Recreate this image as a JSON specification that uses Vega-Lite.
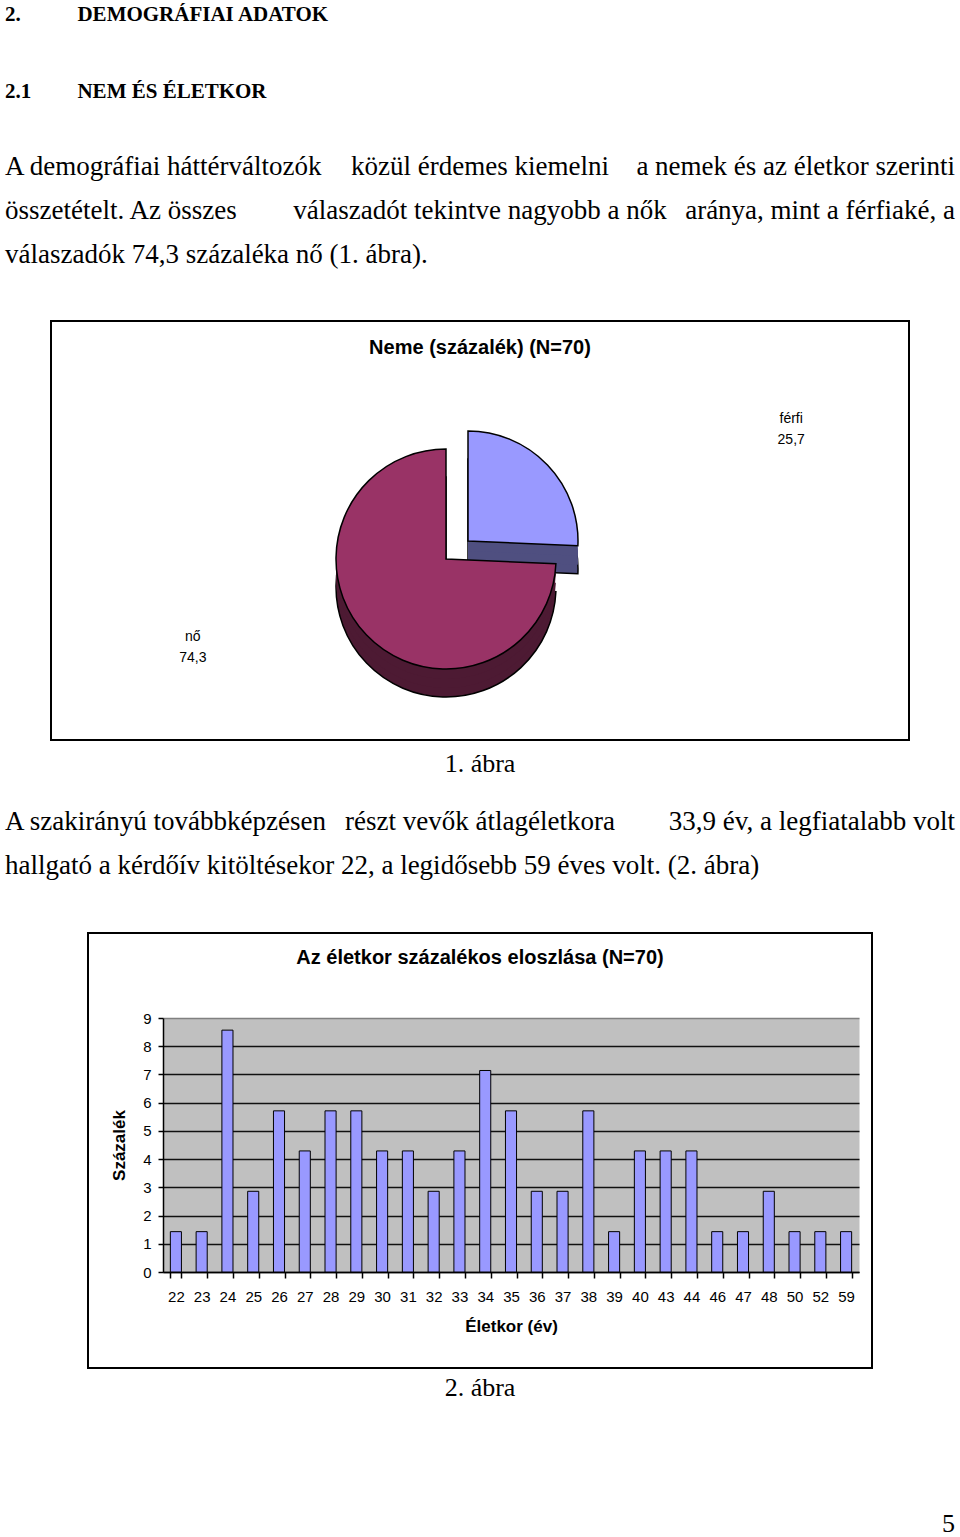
{
  "$schema": "https://vega.github.io/schema/vega-lite/v6.json",
  "background": "white",
  "padding": {"left": 5, "right": 5, "top": 0, "bottom": 0},
  "config": {
    "view": {"stroke": null},
    "locale": {"number": {"decimal": ",", "thousands": " ", "grouping": [3], "currency": ["", " Ft"]}}
  },
  "datasets": {
    "headings": [
      {"line": 1, "part": "left", "text": "2.\u2003\u2003\u2002\u2009DEMOGRÁFIAI ADATOK"},
      {"line": 2, "part": "left", "text": "2.1\u2003\u2003\u2009NEM ÉS ÉLETKOR"}
    ],
    "para1": [
      {"line": 1, "part": "left", "text": "A demográfiai háttérváltozók"},
      {"line": 1, "part": "center", "text": "közül érdemes kiemelni"},
      {"line": 1, "part": "right", "text": "a nemek és az életkor szerinti"},
      {"line": 2, "part": "left", "text": "összetételt. Az összes"},
      {"line": 2, "part": "center", "text": "válaszadót tekintve nagyobb a nők"},
      {"line": 2, "part": "right", "text": "aránya, mint a férfiaké, a"},
      {"line": 3, "part": "left", "text": "válaszadók 74,3 százaléka nő (1. ábra)."}
    ],
    "cap1": [{"line": 1, "part": "center", "text": "1. ábra"}],
    "para2": [
      {"line": 1, "part": "left", "text": "A szakirányú továbbképzésen"},
      {"line": 1, "part": "center", "text": "részt vevők átlagéletkora"},
      {"line": 1, "part": "right", "text": "33,9 év, a legfiatalabb volt"},
      {"line": 2, "part": "left", "text": "hallgató a kérdőív kitöltésekor 22, a legidősebb 59 éves volt. (2. ábra)"}
    ],
    "tail": [
      {"line": 1, "part": "center", "text": "2. ábra"},
      {"line": 2, "part": "right", "text": "5"}
    ],
    "nem": [
      {"nem": "férfi", "pct": 25.7},
      {"nem": "nő", "pct": 74.3}
    ],
    "ages": [
      {"age": 22, "pct": 1.43}, {"age": 23, "pct": 1.43}, {"age": 24, "pct": 8.57},
      {"age": 25, "pct": 2.86}, {"age": 26, "pct": 5.71}, {"age": 27, "pct": 4.29},
      {"age": 28, "pct": 5.71}, {"age": 29, "pct": 5.71}, {"age": 30, "pct": 4.29},
      {"age": 31, "pct": 4.29}, {"age": 32, "pct": 2.86}, {"age": 33, "pct": 4.29},
      {"age": 34, "pct": 7.14}, {"age": 35, "pct": 5.71}, {"age": 36, "pct": 2.86},
      {"age": 37, "pct": 2.86}, {"age": 38, "pct": 5.71}, {"age": 39, "pct": 1.43},
      {"age": 40, "pct": 4.29}, {"age": 43, "pct": 4.29}, {"age": 44, "pct": 4.29},
      {"age": 46, "pct": 1.43}, {"age": 47, "pct": 1.43}, {"age": 48, "pct": 2.86},
      {"age": 50, "pct": 1.43}, {"age": 52, "pct": 1.43}, {"age": 59, "pct": 1.43}
    ]
  },
  "spacing": 0,
  "bounds": "flush",
  "center": true,
  "vconcat": [
    {
      "width": 950, "height": 145,
      "data": {"name": "headings"},
      "mark": {"type": "text", "align": "left", "font": "Liberation Serif", "fontSize": 21, "fontWeight": "bold", "color": "black"},
      "encoding": {
        "x": {"field": "part", "type": "nominal", "scale": {"type": "point", "domain": ["left", "center", "right"], "padding": 0}, "axis": null},
        "y": {"field": "line", "type": "ordinal", "scale": {"type": "point", "domain": [1, 2], "padding": 0.4416, "align": 0.2206}, "axis": null},
        "text": {"field": "text"}
      }
    },
    {
      "width": 950, "height": 176,
      "data": {"name": "para1"},
      "encoding": {
        "x": {"field": "part", "type": "nominal", "scale": {"type": "point", "domain": ["left", "center", "right"], "padding": 0}, "axis": null},
        "y": {"field": "line", "type": "ordinal", "scale": {"type": "point", "domain": [1, 2, 3], "padding": 1, "align": 0.25}, "axis": null},
        "text": {"field": "text"}
      },
      "layer": [
        {"transform": [{"filter": "datum.part === 'left'"}], "mark": {"type": "text", "align": "left", "font": "Liberation Serif", "fontSize": 27, "color": "black"}},
        {"transform": [{"filter": "datum.part === 'center'"}], "mark": {"type": "text", "align": "center", "font": "Liberation Serif", "fontSize": 27, "color": "black"}},
        {"transform": [{"filter": "datum.part === 'right'"}], "mark": {"type": "text", "align": "right", "font": "Liberation Serif", "fontSize": 27, "color": "black"}}
      ]
    },
    {
      "width": 858, "height": 419,
      "view": {"stroke": "black", "strokeWidth": 2},
      "title": {"text": "Neme (százalék) (N=70)", "frame": "group", "anchor": "middle", "offset": -37, "font": "Liberation Sans", "fontSize": 20, "fontWeight": "bold", "color": "black"},
      "data": {"name": "nem"},
      "encoding": {
        "theta": {"field": "pct", "type": "quantitative", "stack": true},
        "order": {"field": "nem", "type": "ordinal", "sort": "ascending"},
        "detail": {"field": "nem", "type": "nominal"},
        "x": {"field": "nem", "type": "nominal", "scale": {"type": "point", "domain": ["nő", "férfi"], "range": [395, 417], "padding": 0}, "axis": null},
        "y": {"field": "nem", "type": "nominal", "scale": {"type": "point", "domain": ["nő", "férfi"], "range": [238, 220], "padding": 0}, "axis": null}
      },
      "layer": [
        {"mark": {"type": "arc", "outerRadius": 110, "yOffset": 28, "stroke": "black", "strokeWidth": 1.5},
         "encoding": {"fill": {"condition": {"test": "datum.nem === 'férfi'", "value": "#4F4F80"}, "value": "#4D1A33"}}},
        {"mark": {"type": "arc", "outerRadius": 110, "yOffset": 19},
         "encoding": {"fill": {"condition": {"test": "datum.nem === 'férfi'", "value": "#4F4F80"}, "value": "#4D1A33"}}},
        {"mark": {"type": "arc", "outerRadius": 110, "yOffset": 10},
         "encoding": {"fill": {"condition": {"test": "datum.nem === 'férfi'", "value": "#4F4F80"}, "value": "#4D1A33"}}},
        {"mark": {"type": "arc", "outerRadius": 110, "stroke": "black", "strokeWidth": 1.5},
         "encoding": {"fill": {"condition": {"test": "datum.nem === 'férfi'", "value": "#9999FF"}, "value": "#993366"}}},
        {"mark": {"type": "text", "radius": 305, "thetaOffset": 0.43, "dx": 35, "dy": -22, "font": "Liberation Sans", "fontSize": 14, "color": "black"},
         "encoding": {"text": {"field": "nem"}}},
        {"mark": {"type": "text", "radius": 305, "thetaOffset": 0.43, "dx": 35, "dy": -1, "font": "Liberation Sans", "fontSize": 14, "color": "black"},
         "encoding": {"text": {"field": "pct", "type": "quantitative", "format": ".1f"}}}
      ]
    },
    {
      "width": 950, "height": 61,
      "data": {"name": "cap1"},
      "mark": {"type": "text", "align": "center", "font": "Liberation Serif", "fontSize": 26, "color": "black"},
      "encoding": {
        "x": {"field": "part", "type": "nominal", "scale": {"type": "point", "domain": ["left", "center", "right"], "padding": 0}, "axis": null},
        "y": {"field": "line", "type": "ordinal", "scale": {"type": "point", "domain": [1], "padding": 0.5, "align": 0.393}, "axis": null},
        "text": {"field": "text"}
      }
    },
    {
      "width": 950, "height": 132,
      "data": {"name": "para2"},
      "encoding": {
        "x": {"field": "part", "type": "nominal", "scale": {"type": "point", "domain": ["left", "center", "right"], "padding": 0}, "axis": null},
        "y": {"field": "line", "type": "ordinal", "scale": {"type": "point", "domain": [1, 2], "padding": 1, "align": 0.2386}, "axis": null},
        "text": {"field": "text"}
      },
      "layer": [
        {"transform": [{"filter": "datum.part === 'left'"}], "mark": {"type": "text", "align": "left", "font": "Liberation Serif", "fontSize": 27, "color": "black"}},
        {"transform": [{"filter": "datum.part === 'center'"}], "mark": {"type": "text", "align": "center", "font": "Liberation Serif", "fontSize": 27, "color": "black"}},
        {"transform": [{"filter": "datum.part === 'right'"}], "mark": {"type": "text", "align": "right", "font": "Liberation Serif", "fontSize": 27, "color": "black"}}
      ]
    },
    {
      "width": 784, "height": 435,
      "view": {"stroke": "black", "strokeWidth": 2},
      "title": {"text": "Az életkor százalékos eloszlása (N=70)", "frame": "group", "anchor": "middle", "offset": -35, "font": "Liberation Sans", "fontSize": 20, "fontWeight": "bold", "color": "black"},
      "data": {"name": "ages"},
      "resolve": {"scale": {"x": "independent", "y": "independent"}, "axis": {"x": "independent", "y": "independent"}},
      "layer": [
        {
          "mark": {"type": "bar", "opacity": 0},
          "encoding": {
            "x": {"field": "age", "type": "ordinal", "scale": {"range": [75, 771], "paddingInner": 0.57, "paddingOuter": 0.285}, "axis": null},
            "y": {"field": "pct", "type": "quantitative", "scale": {"domain": [0, 9], "range": [339, 85], "nice": false},
                  "axis": {"orient": "left", "offset": -75, "values": [4.5], "grid": true, "gridWidth": 254, "gridColor": "#C0C0C0", "gridOpacity": 1, "labels": false, "ticks": false, "domain": false, "title": null}}
          }
        },
        {
          "mark": {"type": "bar", "fill": "#9999FF", "stroke": "black", "strokeWidth": 1},
          "encoding": {
            "x": {"field": "age", "type": "ordinal", "scale": {"range": [75, 771], "paddingInner": 0.57, "paddingOuter": 0.285},
                  "axis": {"orient": "bottom", "offset": -96, "title": "Életkor (év)", "labelAngle": 0, "labelFont": "Liberation Sans", "labelFontSize": 15, "labelColor": "black", "labelPadding": 11, "labelOverlap": false, "tickBand": "extent", "tickColor": "black", "tickSize": 6, "tickWidth": 1.5, "domainColor": "black", "domainWidth": 1.5, "titleFont": "Liberation Sans", "titleFontSize": 17, "titleFontWeight": "bold", "titleColor": "black", "titlePadding": 14, "grid": false}},
            "y": {"field": "pct", "type": "quantitative", "scale": {"domain": [0, 9], "range": [339, 85], "nice": false},
                  "axis": {"orient": "left", "offset": -75, "values": [0, 1, 2, 3, 4, 5, 6, 7, 8, 9], "format": "d", "title": "Százalék", "labelFont": "Liberation Sans", "labelFontSize": 15, "labelColor": "black", "labelPadding": 7, "tickColor": "black", "tickSize": 5, "tickWidth": 1.5, "domainColor": "black", "domainWidth": 1.5, "grid": true, "gridColor": {"condition": {"test": "datum.value === 9", "value": "#808080"}, "value": "#111111"}, "gridWidth": 1.5, "titleFont": "Liberation Sans", "titleFontSize": 17, "titleFontWeight": "bold", "titleColor": "black", "titlePadding": 14}}
          }
        }
      ]
    },
    {
      "width": 950, "height": 169,
      "data": {"name": "tail"},
      "encoding": {
        "x": {"field": "part", "type": "nominal", "scale": {"type": "point", "domain": ["left", "center", "right"], "padding": 0}, "axis": null},
        "y": {"field": "line", "type": "ordinal", "scale": {"type": "point", "domain": [1, 2], "padding": 0.1213, "align": 0.606}, "axis": null},
        "text": {"field": "text"}
      },
      "layer": [
        {"transform": [{"filter": "datum.part === 'center'"}], "mark": {"type": "text", "align": "center", "font": "Liberation Serif", "fontSize": 26, "color": "black"}},
        {"transform": [{"filter": "datum.part === 'right'"}], "mark": {"type": "text", "align": "right", "font": "Liberation Serif", "fontSize": 26, "color": "black"}}
      ]
    }
  ]
}
